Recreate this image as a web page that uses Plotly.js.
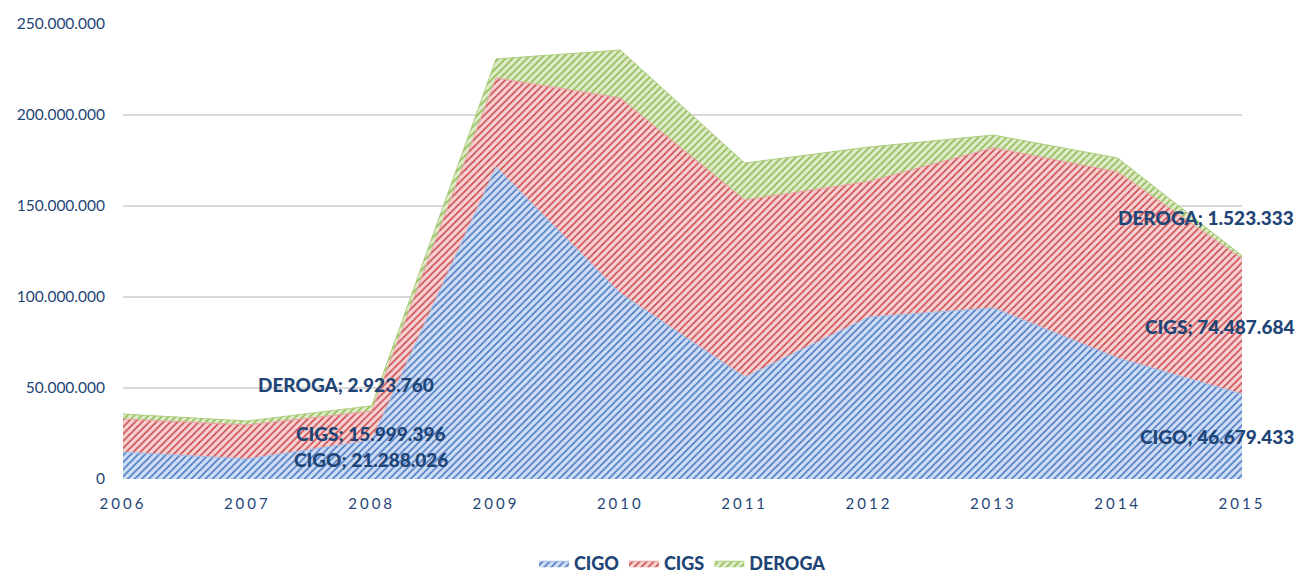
<!DOCTYPE html>
<html>
<head>
<meta charset="utf-8">
<script src="https://cdn.plot.ly/plotly-3.0.1.min.js"></script>
<style>
  html, body { margin: 0; padding: 0; background: #fff; }
  #chart { width: 1299px; height: 578px; }
  .xtick text { letter-spacing: 3px; }
</style>
</head>
<body>
<div id="chart"></div>
<script>
// ---- data ----
var years = [2006, 2007, 2008, 2009, 2010, 2011, 2012, 2013, 2014, 2015];
var cigo   = [14800000, 11000000, 21288026, 171400000, 102000000, 56000000, 89000000, 94000000, 66500000, 46679433];
var cigs   = [18200000, 18700000, 15999396,  49000000, 107300000, 97300000, 74500000, 88000000, 102200000, 74487684];
var deroga = [ 2700000,  2200000,  2923760,  10400000,  26400000, 20300000, 18900000,  7000000,   7700000,  1523333];
var seriesNames = ['CIGO', 'CIGS', 'DEROGA'];
var yTickVals = [0, 50000000, 100000000, 150000000, 200000000, 250000000];

var labelColor = '#1f4577';
var fontFam = 'Lato, "Open Sans", sans-serif';

function fmt(v) {
  return Math.round(v).toString().replace(/\B(?=(\d{3})+(?!\d))/g, '.');
}

var styles = [
  {fg: '#4a78c6', bg: '#d0def3', line: '#a3bde6'},
  {fg: '#cb4b4e', bg: '#f6d2d2', line: '#e8a0a0'},
  {fg: '#8fbb54', bg: '#dfebca', line: '#acce7e'}
];
var allSeries = [cigo, cigs, deroga];

var traces = allSeries.map(function (s, i) {
  return {
    x: years, y: s, name: seriesNames[i], type: 'scatter', mode: 'lines',
    stackgroup: 'one',
    line: {width: 1, color: styles[i].line},
    fillcolor: styles[i].bg,
    fillpattern: {shape: '/', fgcolor: styles[i].fg, bgcolor: styles[i].bg, size: 5, solidity: 0.33},
    hoverinfo: 'skip'
  };
});

// data labels for 2008 and 2015 (index 2 and 9)
var annotations = [];
function addLabels(idx, xshifts, yshifts) {
  var base = 0;
  for (var i = 0; i < allSeries.length; i++) {
    var v = allSeries[i][idx];
    annotations.push({
      x: years[idx], y: base + v / 2, xref: 'x', yref: 'y',
      text: seriesNames[i] + '; ' + fmt(v),
      showarrow: false, xanchor: 'right', yanchor: 'middle',
      xshift: xshifts[i], yshift: yshifts[i],
      font: {family: fontFam, size: 19, color: labelColor, weight: 900}
    });
    base += v;
  }
}
addLabels(2, [78, 75, 64], [0, -8, 24]);
addLabels(9, [54, 54, 54], [0, 0, 40]);

var layout = {
  width: 1299, height: 578,
  margin: {l: 123, r: 57, t: 24, b: 99},
  paper_bgcolor: '#ffffff', plot_bgcolor: '#ffffff',
  separators: ',.',
  showlegend: true,
  legend: {
    orientation: 'h', x: 0.5, xanchor: 'center',
    yref: 'container', y: 0.025, yanchor: 'middle',
    font: {family: fontFam, size: 18, color: labelColor, weight: 900},
    traceorder: 'normal', itemwidth: 30
  },
  xaxis: {
    range: [2006, 2015], tickvals: years, ticktext: years.map(String),
    showgrid: false, zeroline: false, showline: false, ticks: '',
    ticklabelstandoff: 14,
    tickfont: {family: fontFam, size: 15, color: labelColor}
  },
  yaxis: {
    range: [0, 250000000], tickvals: yTickVals, tickformat: ',d',
    showgrid: true, gridcolor: '#d9d9d9', gridwidth: 1.5,
    zeroline: false, showline: false, ticks: '',
    ticklabelstandoff: 17,
    tickfont: {family: fontFam, size: 15.5, color: labelColor}
  },
  annotations: annotations
};

Plotly.newPlot('chart', traces, layout, {displayModeBar: false, staticPlot: true});
</script>
</body>
</html>
